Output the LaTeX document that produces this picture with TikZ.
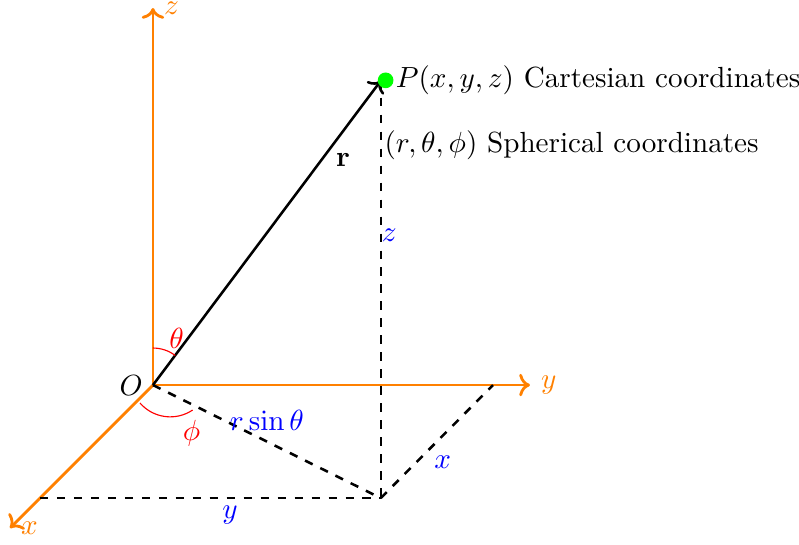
\documentclass[tikz,border=0pt]{standalone}
\usepackage{xcolor}
\usepackage{tikz}
\usetikzlibrary{arrows.meta, positioning, calc}
\usepackage{amsmath}
\usepackage{amssymb}
\definecolor{axisorange}{RGB}{255,128,0}
\definecolor{ptgreen}{RGB}{0,255,0}
\definecolor{lenblue}{RGB}{0,0,255}
\definecolor{angred}{RGB}{255,0,0}
\tikzset{
  axis/.style={->, line width=1pt, color=axisorange},
  axislabel/.style={text=axisorange},
  projline/.style={dashed, line width=0.9pt},
  radvec/.style={->, line width=0.9pt},
  lenlabel/.style={text=lenblue, inner sep=1pt},
  angarc/.style={color=angred},
  anglabel/.style={text=angred, inner sep=1pt},
}

\begin{document}
\begin{tikzpicture}[every node/.append style={scale=1.03}]

  \useasboundingbox (-1.90,-1.975) rectangle (8.025,4.783);

  %% Points
  \coordinate (O) at (0,0);
  \coordinate (P) at (2.83,3.78);
  \coordinate (Q) at (2.83,-1.404);
  \coordinate (xfoot) at (-1.404,-1.404);
  \coordinate (yfoot) at (4.224,0);
  \coordinate (xtip) at (-1.776,-1.776);
  \coordinate (ytip) at (4.683,0);
  \coordinate (ztip) at (0,4.683);

  %% Axes
  \draw[axis] (O) -- (ztip) node[axislabel, right] (zlab) {$z$};
  \draw[axis] (O) -- (ytip) node[axislabel, right] (ylab) {$y$};
  \draw[axis] (O) -- (xtip) node[axislabel, right] (xlab) {$x$};
  \node[left] (olab) at (O) {$O$};

  %% Projections
  \draw[projline] (P) -- (Q);
  \draw[projline] (O) -- (Q);
  \draw[projline] (xfoot) -- (Q);
  \draw[projline] (Q) -- (yfoot);

  %% Radius vector and point
  \draw[radvec] (O) -- (P);
  \node[circle, fill=ptgreen, inner sep=0pt, minimum size=5.4pt] (dot) at (2.89,3.785) {};
  \node[right] (cart) at (dot.center) {$P(x,y,z)$ Cartesian coordinates};
  \node[anchor=west] (sph) at (2.75,2.98) {$(r,\theta,\phi)$ Spherical coordinates};
  \node (rlab) at (2.36,2.795) {$\mathbf{r}$};

  %% Lengths
  \node[lenlabel] (zlen) at (2.935,1.863) {$z$};
  \node[lenlabel] (rsin) at (1.416,-0.435) {$r\sin\theta$};
  \node[lenlabel] (xlen) at (3.60,-0.957) {$x$};
  \node[lenlabel] (ylen) at (0.957,-1.61) {$y$};

  %% Angles
  \draw[angarc] ($(O)+(90:0.46)$) arc (90:53:0.46);
  \node[anglabel] (thlab) at (0.294,0.58) {$\theta$};
  \coordinate (phic) at (0.215,0.102);
  \draw[angarc] ($(phic)+(221:0.497)$) arc (221:304:0.497);
  \node[anglabel] (phlab) at (0.48,-0.60) {$\phi$};

\end{tikzpicture}
\end{document}
